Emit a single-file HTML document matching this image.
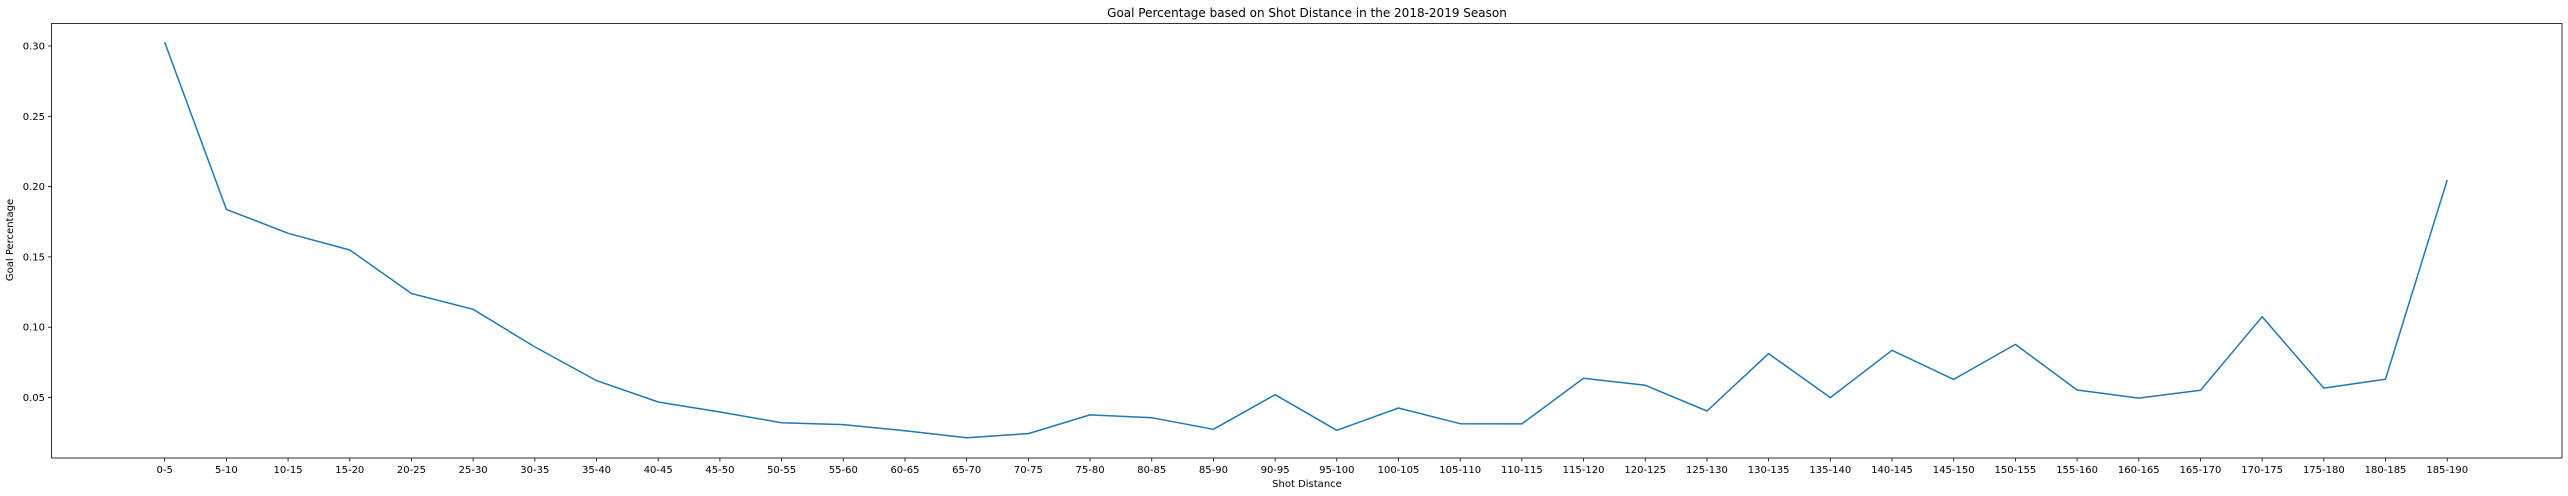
<!DOCTYPE html>
<html><head><meta charset="utf-8"><style>
html,body{margin:0;padding:0;background:#fff;}
svg{display:block;font-family:"DejaVu Sans","Liberation Sans",sans-serif;}
</style></head><body>
<svg id="chart" width="2568" height="496" viewBox="0 0 2568 496" xmlns="http://www.w3.org/2000/svg">
<rect width="2568" height="496" fill="#fff"/>
<text x="1307" y="17" font-size="12" text-anchor="middle" fill="#000">Goal Percentage based on Shot Distance in the 2018-2019 Season</text>
<text transform="translate(13,240) rotate(-90)" font-size="10" text-anchor="middle" fill="#000">Goal Percentage</text>
<text x="1307" y="487" font-size="10" text-anchor="middle" fill="#000">Shot Distance</text>
<g id="yticks"></g><g id="xticks"></g>
<path id="series" fill="none" stroke="#1f77b4" stroke-width="1.5" stroke-linejoin="round"/>
<rect x="51.5" y="23.5" width="2510.5" height="434.5" fill="none" stroke="#000" stroke-width="0.8"/>
</svg>
<script>
const categories = ["0-5","5-10","10-15","15-20","20-25","25-30","30-35","35-40","40-45","45-50","50-55","55-60","60-65","65-70","70-75","75-80","80-85","85-90","90-95","95-100","100-105","105-110","110-115","115-120","120-125","125-130","130-135","135-140","140-145","145-150","150-155","155-160","160-165","165-170","170-175","175-180","180-185","185-190"];
const goalPct = [0.3026,0.1838,0.1668,0.1549,0.124,0.1127,0.086,0.062,0.0468,0.0397,0.0321,0.0307,0.0264,0.0214,0.0243,0.0376,0.0356,0.0274,0.052,0.0267,0.0425,0.0314,0.0312,0.0637,0.0587,0.0404,0.0812,0.0499,0.0836,0.0629,0.0878,0.0553,0.0496,0.0551,0.1075,0.0567,0.063,0.2047];
const yTickValues = [0.05,0.10,0.15,0.20,0.25,0.30];
const yTickLabels = ["0.05","0.10","0.15","0.20","0.25","0.30"];

const NS="http://www.w3.org/2000/svg";
const X0=164.7, DX=61.69;
function xPos(i){return X0+i*DX;}
function yPos(v){return 46+(0.30-v)/0.05*70.3;}
const yt=document.getElementById('yticks'), xt=document.getElementById('xticks');
yTickValues.forEach((v,i)=>{
  const y=yPos(v);
  const l=document.createElementNS(NS,'line');
  l.setAttribute('x1',48);l.setAttribute('x2',51.5);l.setAttribute('y1',y);l.setAttribute('y2',y);l.setAttribute('stroke','#000');l.setAttribute('stroke-width','0.8');
  
  
  yt.appendChild(l);
  const t=document.createElementNS(NS,'text');
  t.setAttribute('x',45);t.setAttribute('y',y+3.5);t.setAttribute('font-size','10');t.setAttribute('text-anchor','end');
  t.textContent=yTickLabels[i];
  
  
  yt.appendChild(t);
});
categories.forEach((c,i)=>{
  const x=xPos(i);
  const l=document.createElementNS(NS,'line');
  l.setAttribute('x1',x);l.setAttribute('x2',x);l.setAttribute('y1',458);l.setAttribute('y2',461.5);l.setAttribute('stroke','#000');l.setAttribute('stroke-width','0.8');
  
  
  xt.appendChild(l);
  const t=document.createElementNS(NS,'text');
  t.setAttribute('x',x);t.setAttribute('y',473);t.setAttribute('font-size','10');t.setAttribute('text-anchor','middle');
  t.textContent=c;
  
  
  xt.appendChild(t);
});
document.getElementById('series').setAttribute('d', goalPct.map((v,i)=>(i?'L':'M')+xPos(i).toFixed(1)+' '+yPos(v).toFixed(1)).join(' '));
</script>
</body></html>
